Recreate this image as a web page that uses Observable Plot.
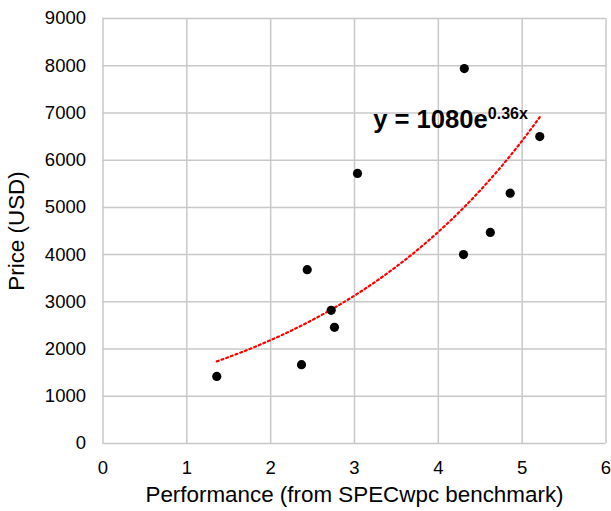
<!DOCTYPE html>
<html>
<head>
<meta charset="utf-8">
<script src="https://cdn.jsdelivr.net/npm/d3@7"></script>
<script src="https://cdn.jsdelivr.net/npm/@observablehq/plot@0.6"></script>
<style>
  html, body { margin: 0; padding: 0; background: #fff; }
  #chart svg { display: block; }
</style>
</head>
<body>
<div id="chart"></div>
<script>
const performance = [1.357, 2.368, 2.436, 2.722, 2.761, 3.036, 4.31, 4.30, 4.62, 4.857, 5.21];
const price       = [1420, 1670, 3680, 2820, 2460, 5720, 7940, 4000, 4470, 5300, 6500];
const xTicks = [0, 1, 2, 3, 4, 5, 6];
const yTicks = [0, 1000, 2000, 3000, 4000, 5000, 6000, 7000, 8000, 9000];
const trendLabel = "y = 1080e";
const trendExponent = "0.36x";

const points = performance.map((x, i) => ({x, y: price[i]}));

// Exponential least-squares fit (ln y = ln a + b x), like a spreadsheet trendline
const mx = d3.mean(points, d => d.x);
const my = d3.mean(points, d => Math.log(d.y));
const b = d3.sum(points, d => (d.x - mx) * (Math.log(d.y) - my)) / d3.sum(points, d => (d.x - mx) ** 2);
const a = Math.exp(my - b * mx);
const [x0, x1] = d3.extent(performance);
const trend = d3.range(0, 61).map(i => {
  const x = x0 + (x1 - x0) * i / 60;
  return {x, y: a * Math.exp(b * x)};
});

const font = "'Liberation Sans', Arial, sans-serif";

const chart = Plot.plot({
  width: 611,
  height: 511,
  marginLeft: 102.5,
  marginRight: 5.5,
  marginTop: 18,
  marginBottom: 68,
  style: {fontFamily: font, background: "#fff", color: "#000", overflow: "visible"},
  x: {domain: [0, 6]},
  y: {domain: [0, 9000]},
  marks: [
    Plot.gridX(xTicks, {stroke: "#c8c8c8", strokeOpacity: 1, strokeWidth: 1.5}),
    Plot.gridY(yTicks, {stroke: "#c8c8c8", strokeOpacity: 1, strokeWidth: 1.5}),
    Plot.axisX({ticks: xTicks, tickFormat: d => String(d), tickSize: 0, tickPadding: 17, fontSize: 18.5, label: "Performance (from SPECwpc benchmark)", labelAnchor: "center", labelArrow: "none", labelOffset: 58}),
    Plot.axisY({ticks: yTicks, tickFormat: d => String(d), tickSize: 0, tickPadding: 17, fontSize: 18.5, label: "Price (USD)", labelAnchor: "center", labelArrow: "none", labelOffset: 94.5}),
    Plot.line(trend, {x: "x", y: "y", stroke: "#ff0000", strokeWidth: 2.2, strokeDasharray: "2,3"}),
    Plot.dot(points, {x: "x", y: "y", r: 4.6, fill: "#000", stroke: "none"}),
    Plot.text([{x: 4.59, y: 6690}], {x: "x", y: "y", text: () => trendLabel, textAnchor: "end", lineAnchor: "bottom", fontSize: 25.6, fontWeight: "bold", fill: "#000"}),
    Plot.text([{x: 4.59, y: 6880}], {x: "x", y: "y", text: () => trendExponent, textAnchor: "start", lineAnchor: "bottom", fontSize: 16, fontWeight: "bold", fill: "#000"})
  ]
});
d3.select(chart).selectAll("g[aria-label='x-axis label'] text, g[aria-label='y-axis label'] text").style("font-size", "22.4px");
document.getElementById("chart").append(chart);
</script>
</body>
</html>
